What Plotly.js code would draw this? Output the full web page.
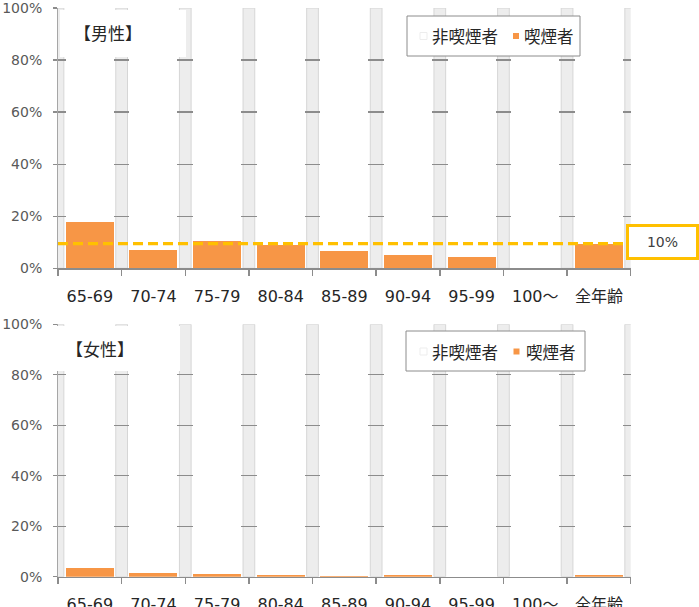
<!DOCTYPE html>
<html>
<head>
<meta charset="utf-8">
<script src="https://cdn.plot.ly/plotly-3.0.1.min.js"></script>
<style>
  html, body { margin: 0; padding: 0; background: #ffffff; }
  #chart { width: 699px; height: 607px; }
</style>
</head>
<body>
<div id="chart"></div>
<script>
// Age groups along the horizontal axis
const ageGroups = ['65-69', '70-74', '75-79', '80-84', '85-89', '90-94', '95-99', '100～', '全年齢'];
// Legend / series names
const nonSmokerName = '非喫煙者';
const smokerName = '喫煙者';
// Panel captions
const maleCaption = '【男性】';
const femaleCaption = '【女性】';
// Share of smokers in each age group (fraction of 1)
const maleSmokers = [0.179, 0.070, 0.106, 0.091, 0.068, 0.052, 0.042, 0.000, 0.095];
const femaleSmokers = [0.033, 0.016, 0.011, 0.007, 0.004, 0.008, 0.000, 0.000, 0.007];
// Share of non-smokers is the remainder of each 100% column
const maleNonSmokers = maleSmokers.map(v => 1 - v);
const femaleNonSmokers = femaleSmokers.map(v => 1 - v);
// Men, all ages: reference level drawn as a dashed line
const maleAllAges = maleSmokers[ageGroups.indexOf('全年齢')];

const W = 699, H = 607;
const px = p => p / W;          // pixel -> paper x
const py = p => 1 - p / H;      // pixel -> paper y

const ORANGE = '#F79646';
const GOLD = '#FFC000';
const NUM_FONT = 'DejaVu Sans, Noto Sans CJK JP, sans-serif';
const CJK_FONT = 'Noto Sans CJK JP, DejaVu Sans, sans-serif';

function panelTraces(smokers, nonSmokers, xa, ya) {
  return [
    {
      type: 'bar', name: smokerName, x: ageGroups, y: smokers,
      xaxis: xa, yaxis: ya,
      marker: { color: ORANGE, line: { width: 0 } },
      hoverinfo: 'x+y+name'
    },
    {
      type: 'bar', name: nonSmokerName, x: ageGroups, y: nonSmokers,
      xaxis: xa, yaxis: ya,
      marker: { color: '#ffffff', line: { width: 0 } },
      hoverinfo: 'x+y+name'
    }
  ];
}

const data = [
  ...panelTraces(maleSmokers, maleNonSmokers, 'x', 'y'),
  ...panelTraces(femaleSmokers, femaleNonSmokers, 'x2', 'y2')
];

const xDomain = [px(58), px(630.7)];

function xAxis(anchor) {
  return {
    domain: xDomain,
    anchor: anchor,
    type: 'category',
    range: [-0.5, ageGroups.length - 0.5],
    showgrid: false,
    zeroline: false,
    showline: true,
    linecolor: '#8c8c8c',
    linewidth: 1.5,
    ticks: 'outside',
    tickson: 'boundaries',
    ticklen: 6,
    tickwidth: 1.5,
    tickcolor: '#8c8c8c',
    ticklabelstandoff: 13,
    ticklabeloverflow: 'allow',
    tickfont: { family: NUM_FONT, size: 16, color: '#262626' },
    fixedrange: true
  };
}

function yAxis(anchor, domain) {
  return {
    domain: domain,
    anchor: anchor,
    range: [0, 1],
    tickvals: [0, 0.2, 0.4, 0.6, 0.8, 1],
    tickformat: '.0%',
    showgrid: true,
    gridcolor: '#8c8c8c',
    gridwidth: 1.3,
    zeroline: false,
    showline: true,
    linecolor: '#a6a6a6',
    linewidth: 1,
    ticks: 'outside',
    ticklen: 4,
    tickwidth: 1.3,
    tickcolor: '#8c8c8c',
    ticklabelstandoff: 8,
    ticklabeloverflow: 'allow',
    tickfont: { family: NUM_FONT, size: 14, color: '#595959' },
    fixedrange: true
  };
}

const shapes = [];
const annotations = [];

// Shaded separators between neighbouring columns, under the grid
function separators(xr, yr) {
  for (let k = 0; k <= ageGroups.length; k++) {
    shapes.push({
      type: 'rect', xref: xr, yref: yr, layer: 'below',
      x0: k - 0.5 - 0.092, x1: k - 0.5 + 0.092, y0: 0, y1: 1,
      fillcolor: '#ededed', line: { color: '#d6d6d6', width: 1 }
    });
  }
}
separators('x', 'y');
separators('x2', 'y2');

// White caption boxes and their text
function caption(text, box, cx, cy) {
  shapes.push({
    type: 'rect', xref: 'paper', yref: 'paper', layer: 'above',
    x0: px(box[0]), x1: px(box[1]), y0: py(box[3]), y1: py(box[2]),
    fillcolor: '#ffffff', line: { width: 0 }
  });
  annotations.push({
    xref: 'paper', yref: 'paper', x: px(cx), y: py(cy),
    xanchor: 'center', yanchor: 'middle', showarrow: false,
    text: text, font: { family: CJK_FONT, size: 17, color: '#262626' }
  });
}
caption(maleCaption, [60, 186, 10, 57], 107.5, 32.5);
caption(femaleCaption, [56, 180, 326, 371], 100, 348);

// Framed key: box, swatches and labels
function legendBox(box, cy, firstSwatchX, firstTextX, secondSwatchX, secondTextX) {
  shapes.push({
    type: 'rect', xref: 'paper', yref: 'paper', layer: 'above',
    x0: px(box[0]), x1: px(box[1]), y0: py(box[3]), y1: py(box[2]),
    fillcolor: '#ffffff', line: { color: '#8c8c8c', width: 1 }
  });
  shapes.push({
    type: 'rect', xref: 'paper', yref: 'paper', layer: 'above',
    x0: px(firstSwatchX - 3.5), x1: px(firstSwatchX + 3.5),
    y0: py(cy + 3.5), y1: py(cy - 3.5),
    fillcolor: '#ffffff', line: { color: '#ededed', width: 1 }
  });
  shapes.push({
    type: 'rect', xref: 'paper', yref: 'paper', layer: 'above',
    x0: px(secondSwatchX - 3), x1: px(secondSwatchX + 3),
    y0: py(cy + 3), y1: py(cy - 3),
    fillcolor: ORANGE, line: { width: 0 }
  });
  [[nonSmokerName, firstTextX], [smokerName, secondTextX]].forEach(([t, x]) => {
    annotations.push({
      xref: 'paper', yref: 'paper', x: px(x), y: py(cy),
      xanchor: 'left', yanchor: 'middle', showarrow: false,
      text: t, font: { family: CJK_FONT, size: 16.5, color: '#262626' }
    });
  });
}
legendBox([407, 580, 16, 56], 36, 423.5, 430, 516, 521.5);
legendBox([406, 585, 331, 371], 351.5, 423.5, 430, 516.5, 523.5);

// Dashed reference level for men of all ages, with its value label
shapes.push({
  type: 'line', xref: 'x domain', yref: 'y', layer: 'above',
  x0: 0, x1: 1, y0: maleAllAges, y1: maleAllAges,
  line: { color: GOLD, width: 3.3, dash: '10px,5px' }
});
annotations.push({
  xref: 'paper', yref: 'paper', x: px(662), y: py(242.5),
  xanchor: 'center', yanchor: 'middle', showarrow: false,
  width: 65, height: 28, borderpad: 1,
  bgcolor: '#ffffff', bordercolor: GOLD, borderwidth: 3,
  text: Math.round(maleAllAges * 100) + '%',
  font: { family: NUM_FONT, size: 14, color: '#404040' }
});

const layout = {
  width: W, height: H,
  margin: { l: 0, r: 0, t: 0, b: 0, pad: 0 },
  paper_bgcolor: '#ffffff',
  plot_bgcolor: '#ffffff',
  barmode: 'stack',
  bargap: 0.245,
  showlegend: false,
  xaxis: xAxis('y'),
  yaxis: yAxis('x', [py(268.3), py(8)]),
  xaxis2: xAxis('y2'),
  yaxis2: yAxis('x2', [py(576.7), py(324.3)]),
  shapes: shapes,
  annotations: annotations
};

Plotly.newPlot('chart', data, layout, { displayModeBar: false, staticPlot: true });
</script>
</body>
</html>
